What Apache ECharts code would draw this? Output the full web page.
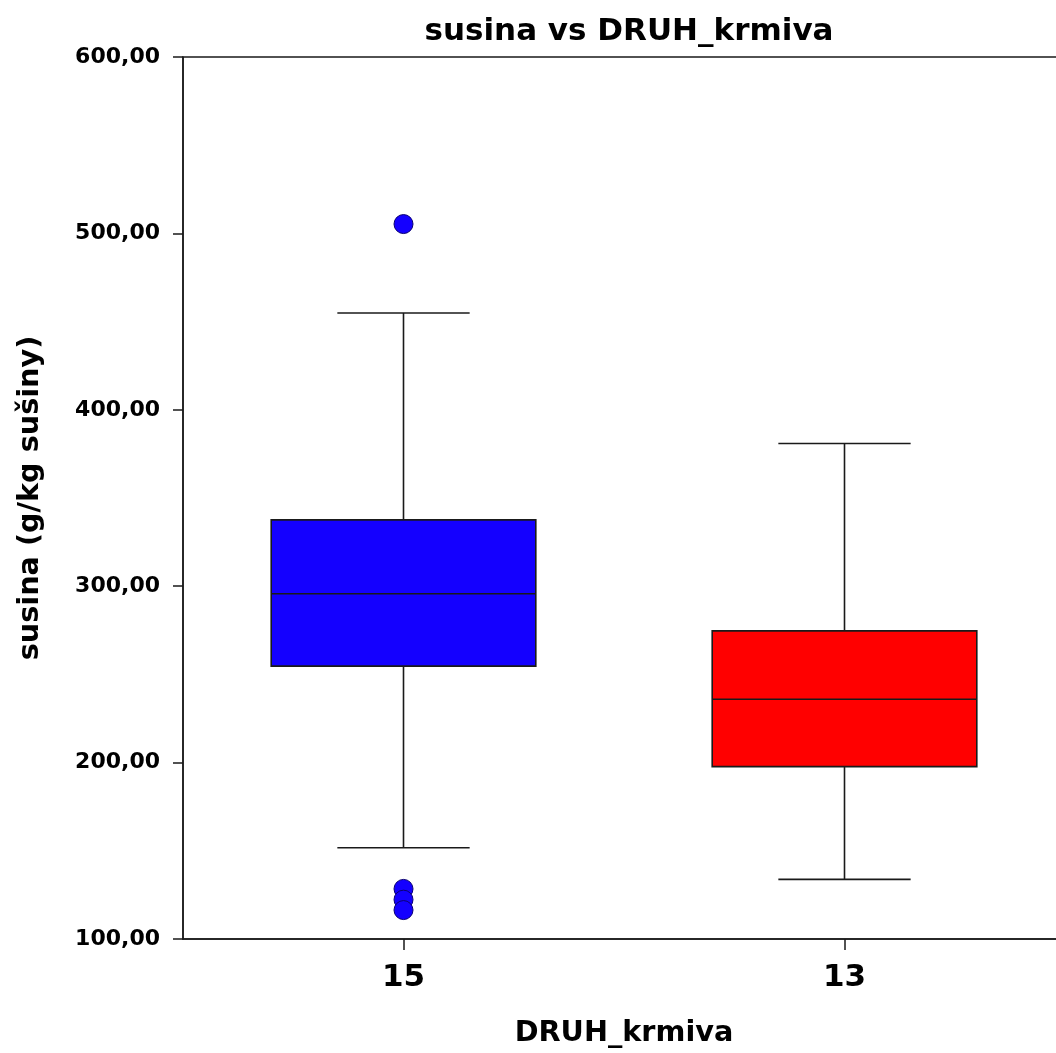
<!DOCTYPE html>
<html>
<head>
<meta charset="utf-8">
<script src="https://cdn.jsdelivr.net/npm/echarts@6/dist/echarts.min.js"></script>
<style>
html,body{margin:0;padding:0;background:#fff;}
#chart{width:1056px;height:1053px;}
</style>
</head>
<body>
<div id="chart"></div>
<script>
// ---- data ----
const categories = ['15', '13'];
const lowerWhisker = [151.7, 133.8];
const q1Values = [254.7, 197.7];
const medianValues = [295.7, 235.9];
const q3Values = [337.6, 274.7];
const upperWhisker = [454.9, 380.9];
const outliers15 = [505.3, 128.4, 122.3, 116.4];
const boxColors = ['#1400ff', '#ff0000'];
const yTicks = [100, 200, 300, 400, 500, 600];

const FONT = '"DejaVu Sans", Verdana, sans-serif';
const chart = echarts.init(document.getElementById('chart'), null, {renderer: 'canvas'});

const boxData = categories.map((c, i) => [i, lowerWhisker[i], q1Values[i], medianValues[i], q3Values[i], upperWhisker[i]]);
const outlierData = outliers15.map(v => [0, v]);

function renderBox(params, api) {
  const idx = api.value(0);
  const pLow = api.coord([idx, api.value(1)]);
  const pQ1 = api.coord([idx, api.value(2)]);
  const pMed = api.coord([idx, api.value(3)]);
  const pQ3 = api.coord([idx, api.value(4)]);
  const pHigh = api.coord([idx, api.value(5)]);
  const band = api.size([1, 0])[0];
  const bw = band * 0.6;
  const cw = bw / 2;
  const x = pMed[0];
  const lineStyle = {stroke: '#1a1a1a', lineWidth: 1.6};
  return {
    type: 'group',
    children: [
      {type: 'line', shape: {x1: x, y1: pHigh[1], x2: x, y2: pQ3[1]}, style: lineStyle},
      {type: 'line', shape: {x1: x, y1: pQ1[1], x2: x, y2: pLow[1]}, style: lineStyle},
      {type: 'line', shape: {x1: x - cw / 2, y1: pHigh[1], x2: x + cw / 2, y2: pHigh[1]}, style: lineStyle},
      {type: 'line', shape: {x1: x - cw / 2, y1: pLow[1], x2: x + cw / 2, y2: pLow[1]}, style: lineStyle},
      {type: 'rect', shape: {x: x - bw / 2, y: pQ3[1], width: bw, height: pQ1[1] - pQ3[1]},
        style: {fill: boxColors[idx], stroke: '#1a1a1a', lineWidth: 1.6}},
      {type: 'line', shape: {x1: x - bw / 2, y1: pMed[1], x2: x + bw / 2, y2: pMed[1]}, style: lineStyle}
    ]
  };
}

const option = {
  backgroundColor: '#ffffff',
  animation: false,
  title: {
    text: 'susina vs DRUH_krmiva',
    left: 624,
    textAlign: 'center',
    top: 11,
    textStyle: {fontFamily: FONT, fontWeight: 'bold', fontSize: 31, color: '#000'}
  },
  grid: {
    left: 183, top: 57, width: 882, height: 882,
    outerBoundsMode: 'none',
    containLabel: false,
    show: true, borderColor: '#1a1a1a', borderWidth: 1.5, backgroundColor: 'transparent'
  },
  xAxis: {
    type: 'category',
    data: categories,
    boundaryGap: true,
    name: 'DRUH_krmiva',
    nameLocation: 'middle',
    nameGap: 80,
    nameTextStyle: {fontFamily: FONT, fontWeight: 'bold', fontSize: 28.7, color: '#000'},
    axisLine: {show: true, lineStyle: {color: '#1a1a1a', width: 1.5}},
    axisTick: {show: true, alignWithLabel: true, length: 11, lineStyle: {color: '#1a1a1a', width: 1.5}},
    axisLabel: {fontFamily: FONT, fontWeight: 'bold', fontSize: 31, color: '#000', margin: 23},
    splitLine: {show: false}
  },
  yAxis: {
    type: 'value',
    min: 100, max: 600, interval: 100,
    name: 'susina (g/kg sušiny)',
    nameLocation: 'middle',
    nameRotate: 90,
    nameGap: 138,
    nameTextStyle: {fontFamily: FONT, fontWeight: 'bold', fontSize: 28.7, color: '#000'},
    axisLine: {show: true, lineStyle: {color: '#1a1a1a', width: 1.5}},
    axisTick: {show: true, length: 10, lineStyle: {color: '#1a1a1a', width: 1.5}},
    axisLabel: {
      fontFamily: FONT, fontWeight: 'bold', fontSize: 22, color: '#000', margin: 23,
      formatter: v => v.toFixed(2).replace('.', ',')
    },
    splitLine: {show: false}
  },
  series: [
    {
      type: 'custom',
      renderItem: renderBox,
      data: boxData,
      encode: {x: 0, y: [1, 2, 3, 4, 5]},
      z: 2
    },
    {
      type: 'scatter',
      data: outlierData,
      symbol: 'circle',
      symbolSize: 19,
      itemStyle: {color: '#1400ff', borderColor: '#0a0070', borderWidth: 1, opacity: 1},
      z: 3
    }
  ]
};
chart.setOption(option);
</script>
</body>
</html>
